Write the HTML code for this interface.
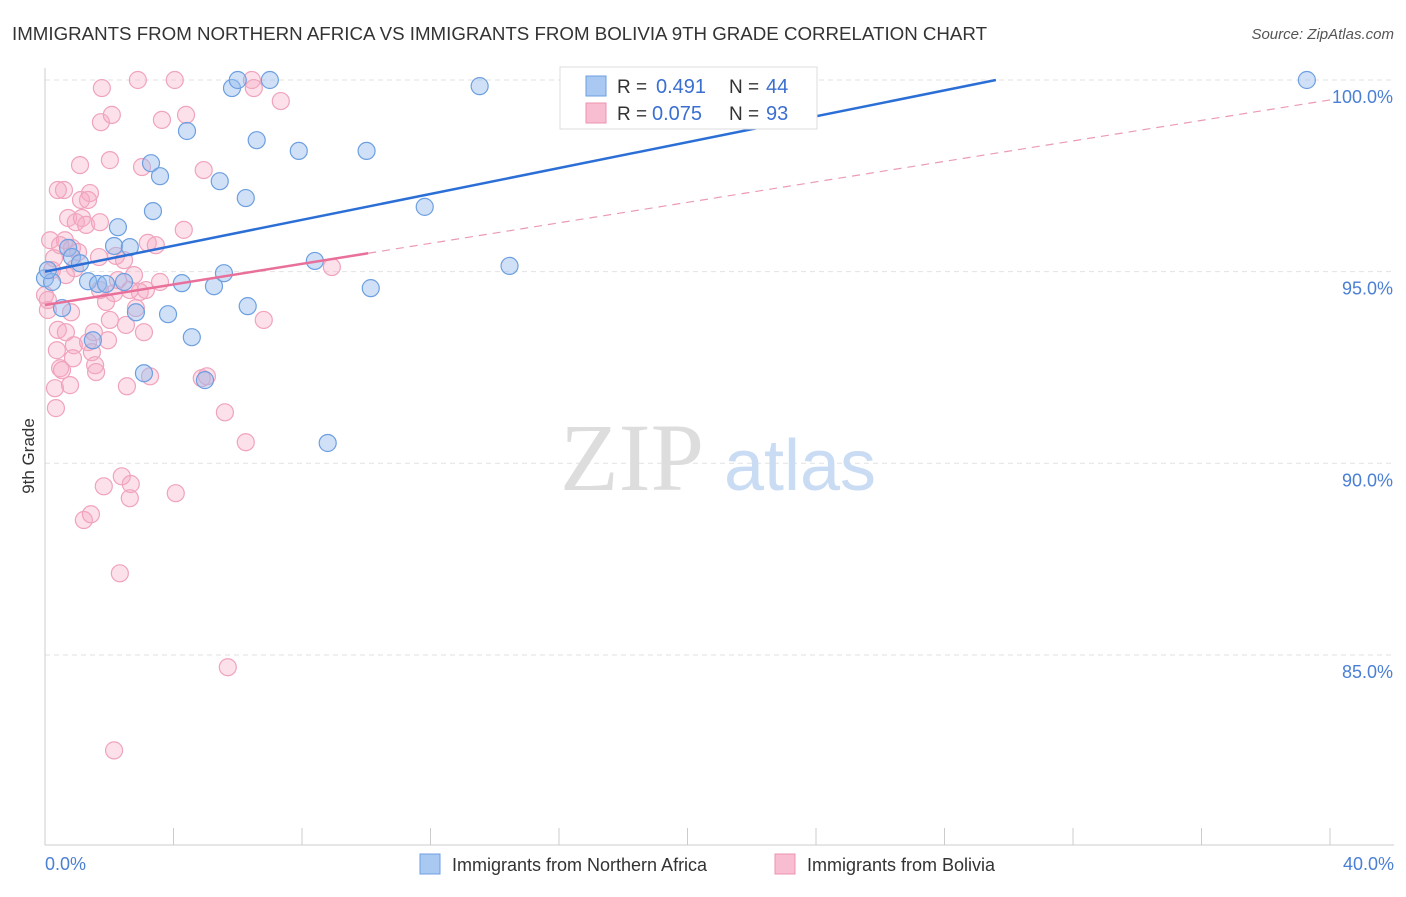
<!DOCTYPE html>
<html><head><meta charset="utf-8"><style>
body{margin:0;background:#fff;font-family:"Liberation Sans",sans-serif;}
</style></head><body>
<svg id="chart" width="1406" height="892" xmlns="http://www.w3.org/2000/svg" font-family="Liberation Sans, sans-serif">
<text x="12" y="40" font-size="18" fill="#333" textLength="975" lengthAdjust="spacingAndGlyphs">IMMIGRANTS FROM NORTHERN AFRICA VS IMMIGRANTS FROM BOLIVIA 9TH GRADE CORRELATION CHART</text>
<text x="1394" y="39" font-size="15" fill="#555" font-style="italic" text-anchor="end">Source: ZipAtlas.com</text>
<g id="grid"></g>
<g>
<text x="632" y="490" font-size="96" fill="#ddd" font-family="Liberation Serif, serif" text-anchor="middle">ZIP</text>
<text x="800" y="490" font-size="72" fill="#c9dcf3" text-anchor="middle">atlas</text>
</g>
<g id="pts"></g>
<g id="lines"></g>
<text x="34" y="456" font-size="17" fill="#333" transform="rotate(-90 34 456)" text-anchor="middle">9th Grade</text>
<text x="45" y="870" font-size="18" fill="#4a7fd4">0.0%</text>
<text x="1394" y="870" font-size="18" fill="#4a7fd4" text-anchor="end">40.0%</text>
<g>
<rect x="560" y="67" width="257" height="62" fill="#fff" stroke="#ddd"/>
<rect x="586" y="76" width="20" height="20" fill="#aac9f2" stroke="#6d9fe0"/>
<rect x="586" y="103" width="20" height="20" fill="#f8bdd0" stroke="#ee93b0"/>
<text x="617" y="93" font-size="19" fill="#333">R =</text>
<text x="656" y="93" font-size="20" fill="#3a6fd0">0.491</text>
<text x="729" y="93" font-size="19" fill="#333">N =</text>
<text x="766" y="93" font-size="20" fill="#3a6fd0">44</text>
<text x="617" y="120" font-size="19" fill="#333">R =</text>
<text x="652" y="120" font-size="20" fill="#3a6fd0">0.075</text>
<text x="729" y="120" font-size="19" fill="#333">N =</text>
<text x="766" y="120" font-size="20" fill="#3a6fd0">93</text>
</g>
<g>
<rect x="420" y="854" width="20" height="20" fill="#aac9f2" stroke="#6d9fe0"/>
<text x="452" y="871" font-size="18" fill="#333">Immigrants from Northern Africa</text>
<rect x="775" y="854" width="20" height="20" fill="#f8bdd0" stroke="#ee93b0"/>
<text x="807" y="871" font-size="18" fill="#333">Immigrants from Bolivia</text>
</g>
</svg>
<script>
const yTicks=[100,95,90,85];
const yTickLabels=["100.0%","95.0%","90.0%","85.0%"];
const xTicks=[0,4,8,12,16,20,24,28,32,36,40];
const blueX=[0,0.22,0.09,0.53,0.72,0.84,1.09,1.34,1.65,1.49,1.90,2.15,2.27,2.46,2.64,2.83,3.08,3.30,3.36,3.58,3.83,4.26,4.42,4.57,4.98,5.26,5.44,5.57,5.82,6.00,6.25,6.31,6.59,7.00,7.90,8.40,8.80,10.01,10.14,11.82,13.53,14.46,19.13,39.28];
const blueY=[94.83,94.73,95.04,94.05,95.62,95.38,95.22,94.75,94.68,93.21,94.68,95.67,96.16,94.73,95.64,93.94,92.35,97.83,96.58,97.49,93.89,94.70,98.67,93.29,92.17,94.62,97.36,94.96,99.79,100,96.92,94.10,98.43,100,98.15,95.28,90.53,98.15,94.57,96.69,99.84,95.15,100,100];
const pinkX=[0,0.09,0.16,0.22,0.28,0.31,0.34,0.37,0.40,0.47,0.53,0.59,0.62,0.65,0.72,0.78,0.81,0.84,0.90,0.93,0.96,1.03,1.09,1.12,1.15,1.21,1.28,1.34,1.40,1.43,1.46,1.52,1.56,1.59,1.68,1.71,1.74,1.77,1.83,1.90,1.96,2.02,2.08,2.15,2.21,2.27,2.33,2.39,2.46,2.52,2.55,2.64,2.67,2.77,2.83,2.89,2.95,3.02,3.08,3.14,3.20,3.27,3.45,3.64,4.04,4.07,4.32,4.39,4.88,4.94,5.04,5.60,5.69,6.25,6.44,6.50,6.81,7.34,8.93,2.15,1.34,0.65,0.87,2.02,0.40,0.47,3.58,1.71,2.64,0.09];
const pinkY=[94.39,94.00,95.82,95.04,95.35,91.96,91.44,92.95,93.48,92.48,92.43,97.13,95.82,93.42,96.40,92.04,93.94,95.62,93.08,95.09,96.29,95.51,97.78,96.87,96.40,88.52,96.22,93.16,97.05,88.67,92.90,93.42,92.56,92.38,95.38,96.29,98.90,99.79,89.40,94.21,93.21,97.91,99.09,94.44,95.41,94.78,87.13,89.66,95.30,93.61,92.01,89.09,89.46,94.91,94.05,100,94.47,97.73,93.42,94.52,95.75,92.27,95.69,98.96,100,89.22,96.09,99.09,92.22,97.65,92.27,91.33,84.68,90.55,100,99.79,93.74,99.45,95.12,82.51,96.87,94.91,92.74,93.74,97.13,95.69,94.73,94.52,94.52,94.26];
const blueTrend=[[0,95.0],[29.6,100]];
const pinkTrendSolid=[[0,94.13],[10.06,95.48]];
const pinkTrendDash=[[10.06,95.48],[40,99.48]];
const NS="http://www.w3.org/2000/svg";
const xs=v=>45+v*32.125, ys=v=>80+(100-v)*38.33;
function mk(t,a,p){const e=document.createElementNS(NS,t);for(const k in a)e.setAttribute(k,a[k]);p.appendChild(e);return e;}
const grid=document.getElementById('grid');
yTicks.forEach((t,i)=>{
 const l=mk('line',{x1:45,x2:1394,y1:ys(t),y2:ys(t),stroke:'#e2e2e2','stroke-dasharray':'5,4'},grid);
 
 
 const tx=mk('text',{x:1393,y:ys(t)+23,'font-size':18,fill:'#4a7fd4','text-anchor':'end'},grid);
 tx.textContent=yTickLabels[i];
 
 
});
const ax=mk('line',{x1:45,x2:45,y1:68,y2:845,stroke:'#ccc'},grid);


const bx=mk('line',{x1:45,x2:1394,y1:845,y2:845,stroke:'#ccc'},grid);


xTicks.forEach(t=>{
 const l=mk('line',{x1:xs(t),x2:xs(t),y1:828,y2:845,stroke:'#ccc'},grid);
 
 
});
const pts=document.getElementById('pts');
pinkX.forEach((x,i)=>{
 const c=mk('circle',{cx:xs(x),cy:ys(pinkY[i]),r:8.5,fill:'rgba(246,170,196,0.35)',stroke:'#f0a3bc','stroke-width':1.2},pts);
 
 
});
blueX.forEach((x,i)=>{
 const c=mk('circle',{cx:xs(x),cy:ys(blueY[i]),r:8.5,fill:'rgba(150,188,238,0.45)',stroke:'#6d9fe0','stroke-width':1.2},pts);
 
 
});
const lines=document.getElementById('lines');
function ln(d,attrs,name){const e=mk('line',Object.assign({x1:xs(d[0][0]),y1:ys(d[0][1]),x2:xs(d[1][0]),y2:ys(d[1][1])},attrs),lines);}
ln(blueTrend,{stroke:'#2b6fd6','stroke-width':2.5},'northern-africa-trendline');
ln(pinkTrendSolid,{stroke:'#e8709a','stroke-width':2.5},'bolivia-trendline');
ln(pinkTrendDash,{stroke:'#eb9ab5','stroke-width':1.2,'stroke-dasharray':'8,6'},'bolivia-trendline-extension');
</script>
</body></html>
